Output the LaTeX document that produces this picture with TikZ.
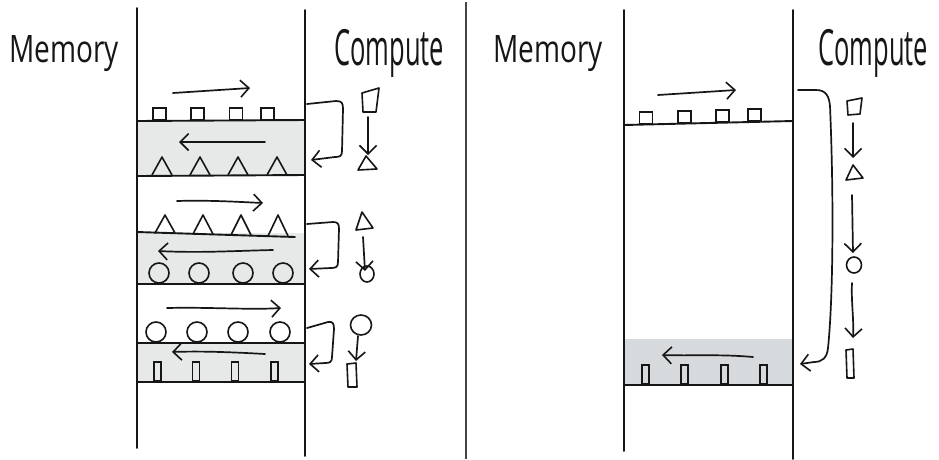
\documentclass[tikz,border=0pt]{standalone}
\usepackage{fontspec}
\setmainfont{Open Sans}
\usetikzlibrary{arrows.meta,shapes.geometric}
\definecolor{bandA}{HTML}{E7E9E9}
\definecolor{bandB}{HTML}{D6DADC}
\definecolor{ink}{HTML}{161616}
\tikzset{
  hand/.style={draw=ink, line width=1.9pt, line cap=round, line join=round},
  shp/.style={hand, line width=1.6pt},
  arr/.style={hand, line width=1.7pt, -{Straight Barb[length=8.5pt,width=17pt,line width=1.6pt]}},
  lbl/.style={font=\fontsize{28}{30}\selectfont, text=ink, inner sep=0pt, anchor=base west, yscale=1.35},
  lblc/.style={lbl, font=\fontsize{25.5}{30}\selectfont, yscale=1.45},
  sq/.style={draw=ink, line width=1.6pt, rectangle, minimum width=13pt, minimum height=12pt, inner sep=0pt, anchor=south},
  thin/.style={draw=ink, line width=1.6pt, rectangle, minimum width=7pt, minimum height=19pt, inner sep=0pt, anchor=south},
  blob/.style={draw=ink, line width=1.6pt, circle, minimum size=20pt, inner sep=0pt},
}
\begin{document}
\begin{tikzpicture}[x=1pt,y=-1pt]
\useasboundingbox (0,0) rectangle (939,459);
\fill[white] (0,0) rectangle (939,459);

% ---------- left panel ----------
\fill[bandA] (137,121) rectangle (305,176);
\fill[bandA] (137,233) rectangle (305,284);
\fill[bandA] (137,343) rectangle (305,382);

\draw[hand] (137,8) -- (137,448);
\draw[hand] (305,10) -- (305,456);
\draw[draw=ink!80, line width=1.2pt] (466,2) -- (466,459);

\draw[hand] (137,121) -- (305,120);
\draw[hand] (137,176) -- (305,175);
\draw[hand] (137,232) -- (295,237);
\draw[hand] (137,284) -- (305,284);
\draw[hand] (137,343) -- (305,343);
\draw[hand] (137,382) -- (305,382);

\node[lbl] (mem1) at (9,62) {Memory};
\node[lblc] (cmp1) at (334,65) {Compute};

% squares on band 1
\foreach \i/\x in {1/159.5,2/197.5,3/236,4/267.5}
  \node[sq] (sqA\i) at (\x,121) {};
% triangles in band 1
\foreach \x in {162,200,238,277}
  \draw[shp] (\x-10,175) -- (\x,157) -- (\x+10,175);
% triangles above band 2
\foreach \x/\b in {165/233,203/234,241/235,278/236}
  \draw[shp] (\x-10,\b) -- (\x,215) -- (\x+10,\b);
% circles in band 2
\foreach \i/\x in {1/159,2/199,3/243,4/283}
  \node[blob] (ciA\i) at (\x,273) {};
% circles above band 3
\foreach \i/\x in {1/156,2/197,3/238,4/280}
  \node[blob] (ciB\i) at (\x,332) {};
% thin rects in band 3
\foreach \i/\x in {1/157.5,2/196,3/235,4/274.5}
  \node[thin] (thA\i) at (\x,382) {};

% memory flow arrows
\draw[arr] (173,93) -- (250,88);
\draw[arr] (265,142) -- (179,142);
\draw[arr] (177,201) .. controls (210,200) and (240,202) .. (263,203);
\draw[arr] (273,250) .. controls (230,251) and (200,253) .. (158,251);
\draw[arr] (167,308) .. controls (210,307) and (250,310) .. (281,308);
\draw[arr] (265,354) .. controls (230,352) and (200,351) .. (172,352);

% loop-back arrows
\coordinate (l1s) at (307,104); \coordinate (l1e) at (311,160);
\coordinate (l2s) at (307,224); \coordinate (l2e) at (309,269);
\coordinate (l3s) at (307,328); \coordinate (l3e) at (309,364);
\draw[arr] (l1s) -- (336,101) .. controls (342,101) and (343,103) .. (343,109) -- (342,151) .. controls (342,156) and (340,157) .. (335,157) -- (l1e);
\draw[arr] (l2s) -- (333,222) .. controls (338,222) and (339,224) .. (339,229) -- (338,262) .. controls (338,267) and (336,268) .. (331,268) -- (l2e);
\draw[arr] (l3s) -- (328,322) .. controls (333,321) and (334,324) .. (334,329) -- (332,357) .. controls (332,362) and (330,363) .. (325,363) -- (l3e);

% left compute column
\draw[shp] (362,93) -- (379,88) -- (376,112) -- (363,112) -- cycle;
\coordinate (c1a) at (368,117); \coordinate (c1b) at (368,155);
\draw[arr] (c1a) -- (c1b);
\draw[shp] (358,170) -- (366,156) -- (377,169) -- cycle;

\draw[shp] (356,230) -- (362,212) -- (373,228) -- cycle;
\coordinate (c2a) at (363,237); \coordinate (c2b) at (365,271);
\draw[arr] (c2a) -- (c2b);
\draw[shp] (367,274) ellipse [x radius=7pt, y radius=8pt];

\draw[shp] (361,325) ellipse [x radius=10.5pt, y radius=10pt];
\coordinate (c3a) at (358,336); \coordinate (c3b) at (356,361);
\draw[arr] (c3a) -- (c3b);
\draw[shp] (347,364) -- (356,363) -- (357,387) -- (348,387) -- cycle;

% ---------- right panel ----------
\fill[bandB] (624,339) rectangle (793,385);
\draw[hand] (624,10) -- (624,451);
\draw[hand] (793,10) -- (793,459);
\draw[hand] (624,125) -- (793,121);
\draw[hand] (624,385) -- (793,385);

\node[lbl] (mem2) at (493,62) {Memory};
\node[lblc] (cmp2) at (818,65) {Compute};

\foreach \i/\x/\b in {1/646/124.5,2/684.5/123.5,3/722.5/122.6,4/754.5/121.8}
  \node[sq] (sqB\i) at (\x,\b) {};
\foreach \i/\x in {1/645.5,2/684.5,3/724.5,4/763.5}
  \node[thin] (thB\i) at (\x,385) {};

\draw[arr] (658,95) -- (736,90);
\draw[arr] (753,357) .. controls (720,354) and (690,356) .. (662,355);

\coordinate (bs) at (798,90); \coordinate (be) at (800,364);
\draw[arr] (bs) -- (816,90) .. controls (826,90) and (829,96) .. (830,106) .. controls (834,200) and (833,300) .. (828,348) .. controls (827,358) and (822,362) .. (814,362) -- (be);

% right compute column
\draw[shp] (847,101) -- (862,98) -- (860,114) -- (848,115) -- cycle;
\coordinate (d1a) at (853,123); \coordinate (d1b) at (853,158);
\draw[arr] (d1a) -- (d1b);
\draw[shp] (846,180) -- (853,165) -- (863,178) -- cycle;
\coordinate (d2a) at (852,195); \coordinate (d2b) at (853,253);
\draw[arr] (d2a) -- (d2b);
\draw[shp] (854,265) ellipse [x radius=7.5pt, y radius=8pt];
\coordinate (d3a) at (852,283); \coordinate (d3b) at (853,338);
\draw[arr] (d3a) .. controls (851,300) and (854,320) .. (d3b);
\draw[shp] (846,350) -- (853,349) -- (854,378) -- (847,378) -- cycle;
\end{tikzpicture}
\end{document}
